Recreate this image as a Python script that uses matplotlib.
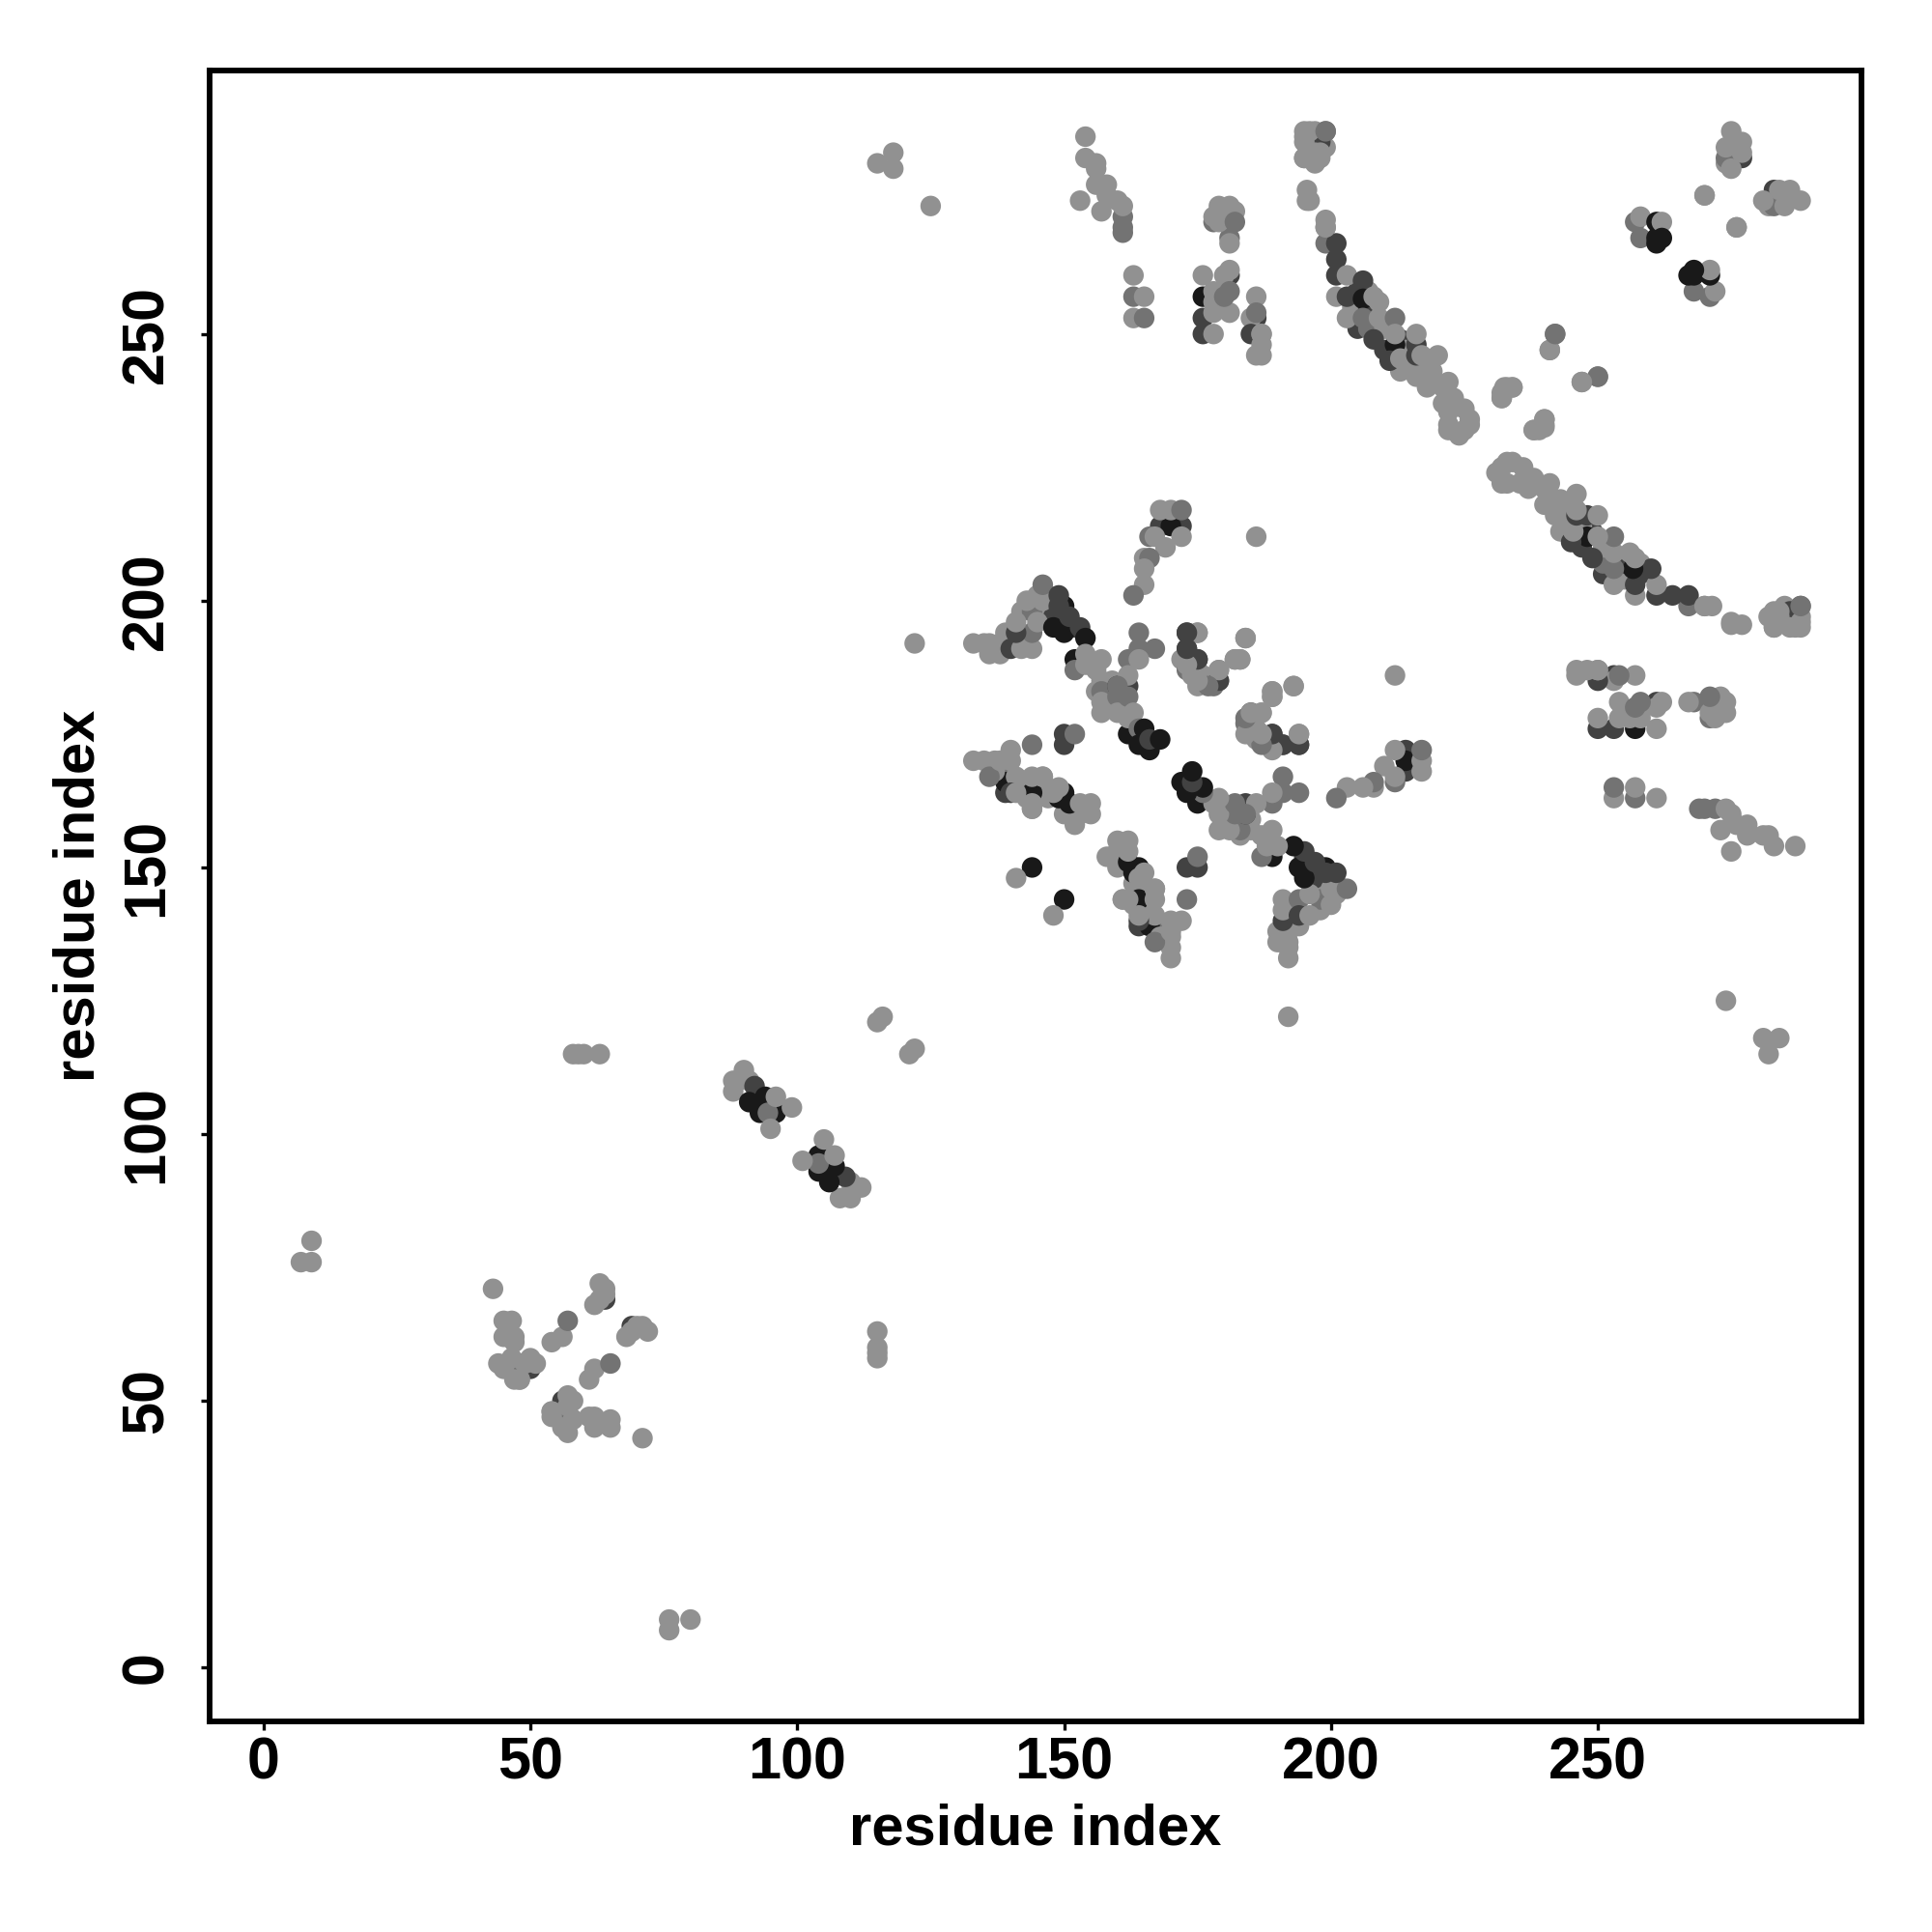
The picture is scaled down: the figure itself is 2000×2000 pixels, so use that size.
#!/usr/bin/env python
"""
Residue contact map, symmetric about the diagonal.
Only the i < j half is listed, the other half is the same contacts flipped.
"""
import numpy as np
import matplotlib
matplotlib.use('Agg')
import matplotlib.pyplot as plt

# contact strength
L, M, D, K = 0.57, 0.45, 0.26, 0.10

i_tails = [7, 9, 9, 58, 59, 60, 63, 115, 116, 115, 118, 118, 125, 122]
j_tails = [76, 76, 80, 115, 115, 115, 115, 121, 122, 282, 281, 284, 274, 192]
s_tails = [L] * 14

# dense stretches, drawn first so the clusters sit on top
i_fill = [225, 222, 225, 222, 221, 218, 217, 217, 218, 204, 205, 207, 207, 205, 207, 210, 210, 213, 214, 213, 215, 138, 139, 142, 146, 147, 153, 155, 155, 150, 143, 145, 146, 139, 137, 136, 147, 148, 150, 152, 142, 144, 146, 147, 158, 159, 156, 196, 198, 197, 199]
j_fill = [232, 233, 236, 237, 240, 241, 243, 245, 245, 255, 258, 255, 258, 251, 251, 251, 247, 249, 247, 243, 244, 168, 164, 165, 165, 163, 160, 162, 160, 160, 163, 198, 197, 194, 191, 190, 199, 197, 199, 195, 198, 198, 200, 201, 182, 185, 183, 285, 283, 282, 285]
s_fill = [L, L, L, L, L, L, L, L, L, L, D, D, L, D, M, L, D, D, L, L, L, M, D, L, L, L, L, L, L, L, L, L, L, L, L, L, L, D, K, D, L, M, L, L, L, L, L, L, L, L, L]

i_first = [47, 47, 48, 50, 43, 45, 46.5, 45, 47, 47, 44, 45, 47, 48, 46.5, 50, 49, 51, 48, 54, 56, 57, 64, 62, 63, 63, 64, 64]
j_first = [56, 57, 57, 56, 71, 65, 65, 62, 62, 61, 57, 56, 54, 54, 58, 58, 57, 57, 54, 61, 62, 65, 69, 68, 69, 72, 71, 70]
s_first = [M, M, M, D, L, L, L, L, L, L, L, L, L, L, L, L, L, L, L, L, L, M, D, L, L, L, L, L]

i_sheet = [88, 88, 89, 90, 91, 92, 91, 93, 94, 96, 94.5, 96, 99, 95]
j_sheet = [110, 108, 110, 112, 110, 109, 106, 104, 107, 104, 104, 107, 105, 101]
s_sheet = [L, L, L, L, L, D, K, K, K, K, M, L, L, L]

i_top = [168, 172, 170, 166, 168, 170, 172, 169, 172, 167, 165, 166, 165, 165, 163, 186]
j_top = [214, 214, 214, 212, 217, 217, 217, 210, 212, 212, 208, 208, 206, 203, 201, 212]
s_top = [D, D, K, M, L, L, M, L, L, L, L, M, L, L, M, L]

i_arm = [133, 135, 136, 138, 138, 140, 142, 144, 144, 141, 141, 143, 145, 146, 145, 149, 149, 148, 150, 151, 153, 154, 152, 152, 154, 154, 157, 156, 157, 157, 157, 157]
j_arm = [192, 192, 192, 192, 190, 191, 191, 191, 194, 194, 196, 200, 201, 203, 196, 201, 199, 195, 194, 197, 195, 193, 189, 187, 190, 188, 189, 187, 185, 183, 181, 179]
s_arm = [L, L, L, L, L, D, L, L, M, D, L, L, L, M, L, D, D, K, K, D, D, K, K, M, L, L, L, L, L, M, L, L]

i_mid = [160, 162, 162, 160, 160, 162, 162, 163, 164, 164, 167, 164, 162, 160, 162, 164, 164, 165, 166, 166, 168]
j_mid = [184, 184, 189, 182, 179, 186, 182, 179, 194, 191, 191, 189, 175, 184, 178, 176, 173, 176, 172, 174, 174]
s_mid = [D, D, M, M, L, L, M, L, M, M, M, L, K, M, L, M, K, K, K, D, K]

i_pair = [173, 173, 172, 175, 175, 173, 175, 175, 176, 178, 179, 179, 184, 183, 182, 189, 189, 193, 185, 187, 184, 185, 186, 189, 188, 194, 191, 194]
j_pair = [194, 191, 189, 194, 189, 187, 187, 184, 186, 184, 187, 185, 193, 189, 189, 183, 182, 184, 179, 179, 177, 175, 174, 175, 173, 175, 173, 173]
s_pair = [D, D, L, L, D, M, L, L, L, M, L, L, L, L, L, L, L, L, D, L, M, L, L, D, L, L, D, D]

i_low = [139, 144, 144, 150, 149, 151, 150, 150, 152, 140, 133, 135, 137, 137, 140, 141, 140, 141, 144, 146, 144, 148, 153, 154, 152, 144, 141, 161, 136, 138, 146, 144, 149]
j_low = [166, 164, 162, 164, 163, 162, 175, 173, 175, 172, 170, 170, 170, 168, 170, 167, 164, 164, 167, 167, 173, 164, 162, 161, 158, 150, 148, 144, 167, 170, 167, 161, 165]
s_low = [K, K, L, K, K, K, D, D, M, L, L, L, L, L, L, L, D, L, L, L, M, L, L, L, L, K, L, L, M, L, L, L, L]

i_band = [195, 197, 199, 198, 195, 195, 196, 198, 195.5, 195.5, 199, 199, 199, 201, 201, 201, 203, 206, 201, 203, 206, 208, 209, 203, 206, 209, 212, 212, 212, 208, 211, 213, 216, 216, 216, 217, 220, 216, 219, 222, 218, 223, 221, 222, 226, 222, 224, 226]
j_band = [288, 288, 288, 286, 287, 283, 283, 284, 277, 275, 271.4, 270, 267, 267, 264, 261, 261, 260, 257, 257, 256.6, 257, 256, 253, 253, 253, 248, 253, 250, 249, 245, 245.4, 248, 250, 246, 246, 246, 242, 243, 241, 240, 238, 237, 235.4, 234, 232, 231, 233]
s_band = [L, L, M, D, L, L, L, L, L, L, L, L, M, D, D, D, L, D, L, D, K, L, L, L, M, L, K, M, L, D, D, L, D, L, D, L, L, L, L, L, L, L, L, L, L, L, L, L]

i_gap = [232, 232.5, 233, 234, 238, 239, 240, 242, 241, 247, 250]
j_gap = [238, 240, 240, 240, 232, 232, 234, 250, 247, 241, 242]
s_gap = [L, L, L, L, L, L, L, M, L, L, M]

i_ends = [196, 196, 195, 195, 197, 199, 196, 199]
j_ends = [288, 284, 283, 286, 284, 288, 275, 270]
s_ends = [L, L, L, L, L, M, L, L]

i_block = [257, 258, 258, 261, 261, 261, 262, 262, 270, 276, 277, 274, 274, 275, 277, 274, 275, 277]
j_block = [271, 272, 268, 271, 268, 267, 271, 268, 276, 270, 283, 282, 283, 281, 286, 285, 288, 284]
s_block = [M, L, M, K, K, K, L, K, L, L, D, L, M, L, L, L, L, L]

i_cross = [186, 186, 185, 185, 176, 176, 176, 176, 181, 178, 178, 181, 178, 178, 180, 180, 181, 181, 181, 181, 178, 178, 181, 181, 179, 179, 182, 182, 186, 187, 186, 187, 186, 187, 187, 163, 165, 163, 163, 165, 161, 161, 160, 161, 161, 157, 158, 156, 153, 154, 154, 156, 156, 158]
j_cross = [250, 253, 253, 250, 250, 253, 257, 261, 261, 250, 254, 254, 258, 256, 257, 261, 258, 262, 268, 267, 271, 272, 272, 274, 274, 271, 273, 271, 257, 246, 246, 248, 254, 250, 250, 253, 253, 257, 261, 257, 270, 272, 275, 274, 269, 273, 276, 278, 275, 283, 287, 281, 282, 278]
s_cross = [D, D, L, D, D, D, K, L, D, L, L, L, L, L, M, L, M, L, M, L, M, L, L, L, L, L, L, M, L, L, L, L, M, L, L, L, M, M, L, L, M, M, L, L, M, L, L, L, L, L, L, L, L, L]

i_res = np.array(i_tails + i_fill + i_first + i_sheet + i_top + i_arm + i_mid + i_pair + i_low + i_band + i_gap + i_ends + i_block + i_cross)
j_res = np.array(j_tails + j_fill + j_first + j_sheet + j_top + j_arm + j_mid + j_pair + j_low + j_band + j_gap + j_ends + j_block + j_cross)
strength = np.array(s_tails + s_fill + s_first + s_sheet + s_top + s_arm + s_mid + s_pair + s_low + s_band + s_gap + s_ends + s_block + s_cross)

ticks = [0, 50, 100, 150, 200, 250]

plt.rcParams['font.family'] = ['Liberation Sans', 'DejaVu Sans']
plt.rcParams['font.weight'] = 'bold'

fig = plt.figure(figsize=(20, 20), dpi=100)
ax = fig.add_axes([217 / 2000, 1 - 1782 / 2000, 1710 / 2000, 1709 / 2000])

xs = np.concatenate([i_res, j_res])
ys = np.concatenate([j_res, i_res])
greys = np.concatenate([strength, strength])
ax.scatter(xs, ys, c=greys, cmap='gray', vmin=0, vmax=1, s=235, linewidths=0)

ax.set_xlim(-10.1, 299.4)
ax.set_ylim(-10.1, 299.4)
ax.set_xticks(ticks)
ax.set_yticks(ticks)
ax.set_xlabel('residue index', fontsize=43, fontweight='bold', labelpad=8.5)
ax.set_ylabel('residue index', fontsize=43, fontweight='bold', labelpad=10.5)
ax.tick_params(axis='x', length=6.5, width=2.4, labelsize=44, pad=5)
ax.tick_params(axis='y', length=6.5, width=2.4, labelsize=44, pad=19)
for lab in ax.get_yticklabels():
    lab.set_rotation(90)
    lab.set_va('center')
for sp in ax.spines.values():
    sp.set_linewidth(4.2)

fig.savefig('out.png', dpi=100)
